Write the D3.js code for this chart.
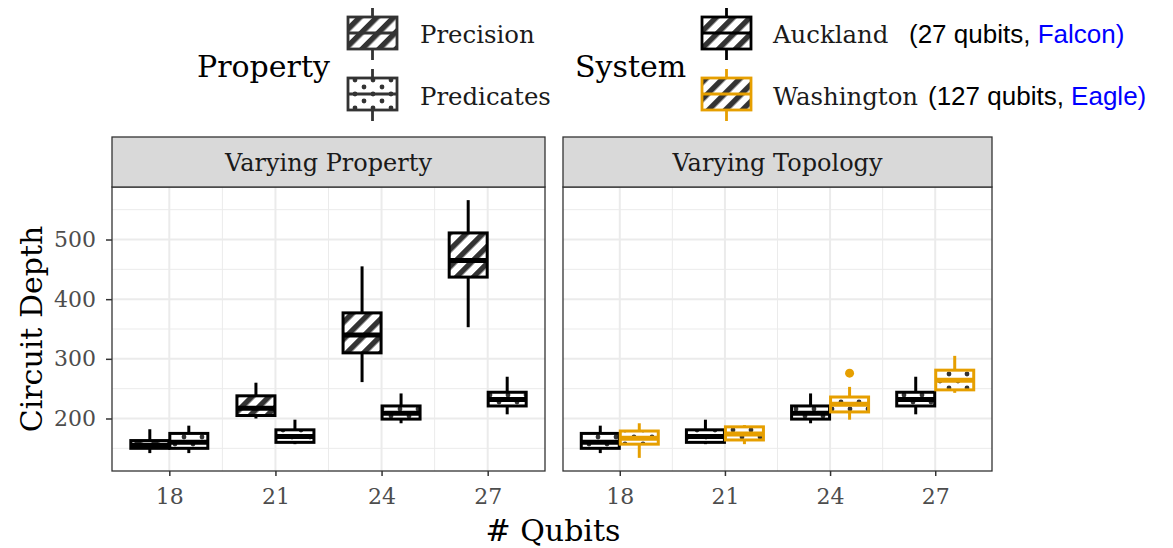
<!DOCTYPE html>
<html><head><meta charset="utf-8">
<script src="https://cdn.jsdelivr.net/npm/d3@7"></script>
<style>body{margin:0;background:#fff}svg{display:block}</style>
</head><body><svg id="c" width="1173" height="548"></svg>
<script>
// ---- data ----
const categories = ["18", "21", "24", "27"];
const yTicks = [200, 300, 400, 500];
const yMinor = [150, 250, 350, 450, 550];
// [min, q1, median, q3, max]
const aucklandPrecision = [[142,150,155,163,182],[200,205,217,238,260],[261,310,340,377,455],[353,437,465,511,566]];
const aucklandPredicates = [[142,150,160,175,188],[157,160,170,181,198],[192,199,209,221,242],[207,221,232,244,270]];
const washingtonPredicates = [[134,157,167,179,192],[157,164,174,186,189],[198,211,224,236,253],[243,248,264,281,305]];
const washingtonOutliers = [[],[],[276],[]];
const panelTitles = ["Varying Property", "Varying Topology"];
const colors = {Auckland: "#000000", Washington: "#E69F00"};

const serif = "DejaVu Serif";
const sans = "Liberation Sans, Arial, sans-serif";
const svg = d3.select("#c");

// patterns
const defs = svg.append("defs");
const hatch = defs.append("pattern").attr("id","hatch").attr("patternUnits","userSpaceOnUse")
  .attr("width",12).attr("height",12).attr("patternTransform","rotate(-45)");
hatch.append("rect").attr("width",12).attr("height",12).attr("fill","#fff");
hatch.append("rect").attr("width",12).attr("height",5.5).attr("fill","#333");
const dots = defs.append("pattern").attr("id","dots").attr("patternUnits","userSpaceOnUse")
  .attr("width",18).attr("height",14);
dots.append("rect").attr("width",18).attr("height",14).attr("fill","#fff");
dots.append("circle").attr("cx",4).attr("cy",3).attr("r",2.4).attr("fill","#333");
dots.append("circle").attr("cx",13).attr("cy",10).attr("r",2.4).attr("fill","#333");

// layout
const plotTop = 187, plotBottom = 471, stripTop = 137;
const panels = [{x0:112, x1:545}, {x0:563, x1:992}];
const y = d3.scaleLinear().domain([112, 588]).range([plotBottom, plotTop]);
const SW = 3;

function drawBox(g, xc, w, s, stroke, fill, outliers) {
  const [mn, q1, md, q3, mx] = s;
  g.append("line").attr("x1",xc).attr("x2",xc).attr("y1",y(mx)).attr("y2",y(q3))
    .attr("stroke",stroke).attr("stroke-width",SW);
  g.append("line").attr("x1",xc).attr("x2",xc).attr("y1",y(q1)).attr("y2",y(mn))
    .attr("stroke",stroke).attr("stroke-width",SW);
  g.append("rect").attr("x",xc-w/2).attr("y",y(q3)).attr("width",w).attr("height",y(q1)-y(q3))
    .attr("fill",fill).attr("stroke",stroke).attr("stroke-width",SW);
  g.append("line").attr("x1",xc-w/2).attr("x2",xc+w/2).attr("y1",y(md)).attr("y2",y(md))
    .attr("stroke",stroke).attr("stroke-width",5);
  (outliers||[]).forEach(o => g.append("circle").attr("cx",xc).attr("cy",y(o)).attr("r",4.5).attr("fill",stroke));
}

panels.forEach((p, pi) => {
  const g = svg.append("g");
  const x = d3.scalePoint().domain(categories).range([p.x0, p.x1]).padding(0.54);
  const step = x.step();
  g.append("rect").attr("x",p.x0).attr("y",plotTop).attr("width",p.x1-p.x0).attr("height",plotBottom-plotTop).attr("fill","#fff");
  // minor grids
  yMinor.forEach(v => g.append("line").attr("x1",p.x0).attr("x2",p.x1).attr("y1",y(v)).attr("y2",y(v))
    .attr("stroke","#EBEBEB").attr("stroke-width",1));
  categories.slice(0,-1).forEach(c => {
    const xm = x(c) + step/2;
    g.append("line").attr("x1",xm).attr("x2",xm).attr("y1",plotTop).attr("y2",plotBottom).attr("stroke","#EBEBEB").attr("stroke-width",1);
  });
  // major grids
  yTicks.forEach(v => g.append("line").attr("x1",p.x0).attr("x2",p.x1).attr("y1",y(v)).attr("y2",y(v))
    .attr("stroke","#EBEBEB").attr("stroke-width",2));
  categories.forEach(c => g.append("line").attr("x1",x(c)).attr("x2",x(c)).attr("y1",plotTop).attr("y2",plotBottom)
    .attr("stroke","#EBEBEB").attr("stroke-width",2));
  // boxes
  const bw = 38, off = 19.5;
  categories.forEach((c, i) => {
    if (pi === 0) {
      drawBox(g, x(c)-off, bw, aucklandPrecision[i], colors.Auckland, "url(#hatch)");
      drawBox(g, x(c)+off, bw, aucklandPredicates[i], colors.Auckland, "url(#dots)");
    } else {
      drawBox(g, x(c)-off, bw, aucklandPredicates[i], colors.Auckland, "url(#dots)");
      drawBox(g, x(c)+off, bw, washingtonPredicates[i], colors.Washington, "url(#dots)", washingtonOutliers[i]);
    }
  });
  // border
  g.append("rect").attr("x",p.x0).attr("y",plotTop).attr("width",p.x1-p.x0).attr("height",plotBottom-plotTop)
    .attr("fill","none").attr("stroke","#333").attr("stroke-width",1.3);
  // strip
  g.append("rect").attr("x",p.x0).attr("y",stripTop).attr("width",p.x1-p.x0).attr("height",plotTop-stripTop)
    .attr("fill","#D9D9D9").attr("stroke","#333").attr("stroke-width",1.3);
  g.append("text").attr("x",(p.x0+p.x1)/2).attr("y",(stripTop+plotTop)/2+1).attr("dy","0.35em")
    .attr("text-anchor","middle").attr("font-family",serif).attr("font-size",24).attr("fill","#1A1A1A").text(panelTitles[pi]);
  // x axis
  const xa = g.append("g").attr("transform",`translate(0,${plotBottom})`)
    .call(d3.axisBottom(x).tickSize(5).tickPadding(12));
  xa.select(".domain").remove();
  xa.selectAll(".tick line").attr("stroke","#333").attr("stroke-width",1.5);
  xa.selectAll(".tick text").attr("font-family",serif).attr("font-size",22).attr("fill","#4D4D4D");
  if (pi === 0) {
    const ya = g.append("g").attr("transform",`translate(${p.x0},0)`)
      .call(d3.axisLeft(y).tickValues(yTicks).tickSize(6).tickPadding(10));
    ya.select(".domain").remove();
    ya.selectAll(".tick line").attr("stroke","#333").attr("stroke-width",1.5);
    ya.selectAll(".tick text").attr("font-family",serif).attr("font-size",22).attr("fill","#4D4D4D");
  }
});

// axis titles
svg.append("text").attr("x",553).attr("y",541).attr("text-anchor","middle").attr("font-family",serif)
  .attr("font-size",30).attr("fill","#000").text("# Qubits");
svg.append("text").attr("transform","translate(42,329) rotate(-90)").attr("text-anchor","middle").attr("font-family",serif)
  .attr("font-size",30).attr("fill","#000").text("Circuit Depth");

// legends
function legendKey(x0, yTop, stroke, fill) {
  const g = svg.append("g");
  const w = 49, h = 32, xc = x0 + w/2;
  g.append("line").attr("x1",xc).attr("x2",xc).attr("y1",yTop-9).attr("y2",yTop+h+11).attr("stroke",stroke).attr("stroke-width",2.8);
  g.append("rect").attr("x",x0).attr("y",yTop).attr("width",w).attr("height",h).attr("fill",fill).attr("stroke",stroke).attr("stroke-width",2.8);
  g.append("line").attr("x1",x0).attr("x2",x0+w).attr("y1",yTop+h/2).attr("y2",yTop+h/2).attr("stroke",stroke).attr("stroke-width",2.8);
}
svg.append("text").attr("x",197).attr("y",66).attr("dy","0.35em").attr("font-family",serif).attr("font-size",30).text("Property");
legendKey(348, 17, "#333", "url(#hatch)");
legendKey(348, 78, "#333", "url(#dots)");
svg.append("text").attr("x",420).attr("y",34).attr("dy","0.35em").attr("font-family",serif).attr("font-size",24.4).attr("fill","#1A1A1A").text("Precision");
svg.append("text").attr("x",420).attr("y",96).attr("dy","0.35em").attr("font-family",serif).attr("font-size",24.4).attr("fill","#1A1A1A").text("Predicates");

svg.append("text").attr("x",575).attr("y",66).attr("dy","0.35em").attr("font-family",serif).attr("font-size",30).text("System");
legendKey(702, 17, colors.Auckland, "url(#hatch)");
legendKey(702, 78, colors.Washington, "url(#hatch)");
const t1 = svg.append("text").attr("x",773).attr("y",34).attr("dy","0.35em").attr("font-size",24.4);
t1.append("tspan").attr("font-family",serif).attr("fill","#1A1A1A").text("Auckland");
t1.append("tspan").attr("x",909).attr("font-family",sans).attr("font-size",26).attr("fill","#000").text("(27 qubits, ");
t1.append("tspan").attr("font-family",sans).attr("font-size",26).attr("fill","#0000FF").text("Falcon)");
const t2 = svg.append("text").attr("x",773).attr("y",96).attr("dy","0.35em").attr("font-size",24.4);
t2.append("tspan").attr("font-family",serif).attr("fill","#1A1A1A").text("Washington");
t2.append("tspan").attr("x",928).attr("font-family",sans).attr("font-size",26).attr("fill","#000").text("(127 qubits, ");
t2.append("tspan").attr("font-family",sans).attr("font-size",26).attr("fill","#0000FF").text("Eagle)");
</script></body></html>
